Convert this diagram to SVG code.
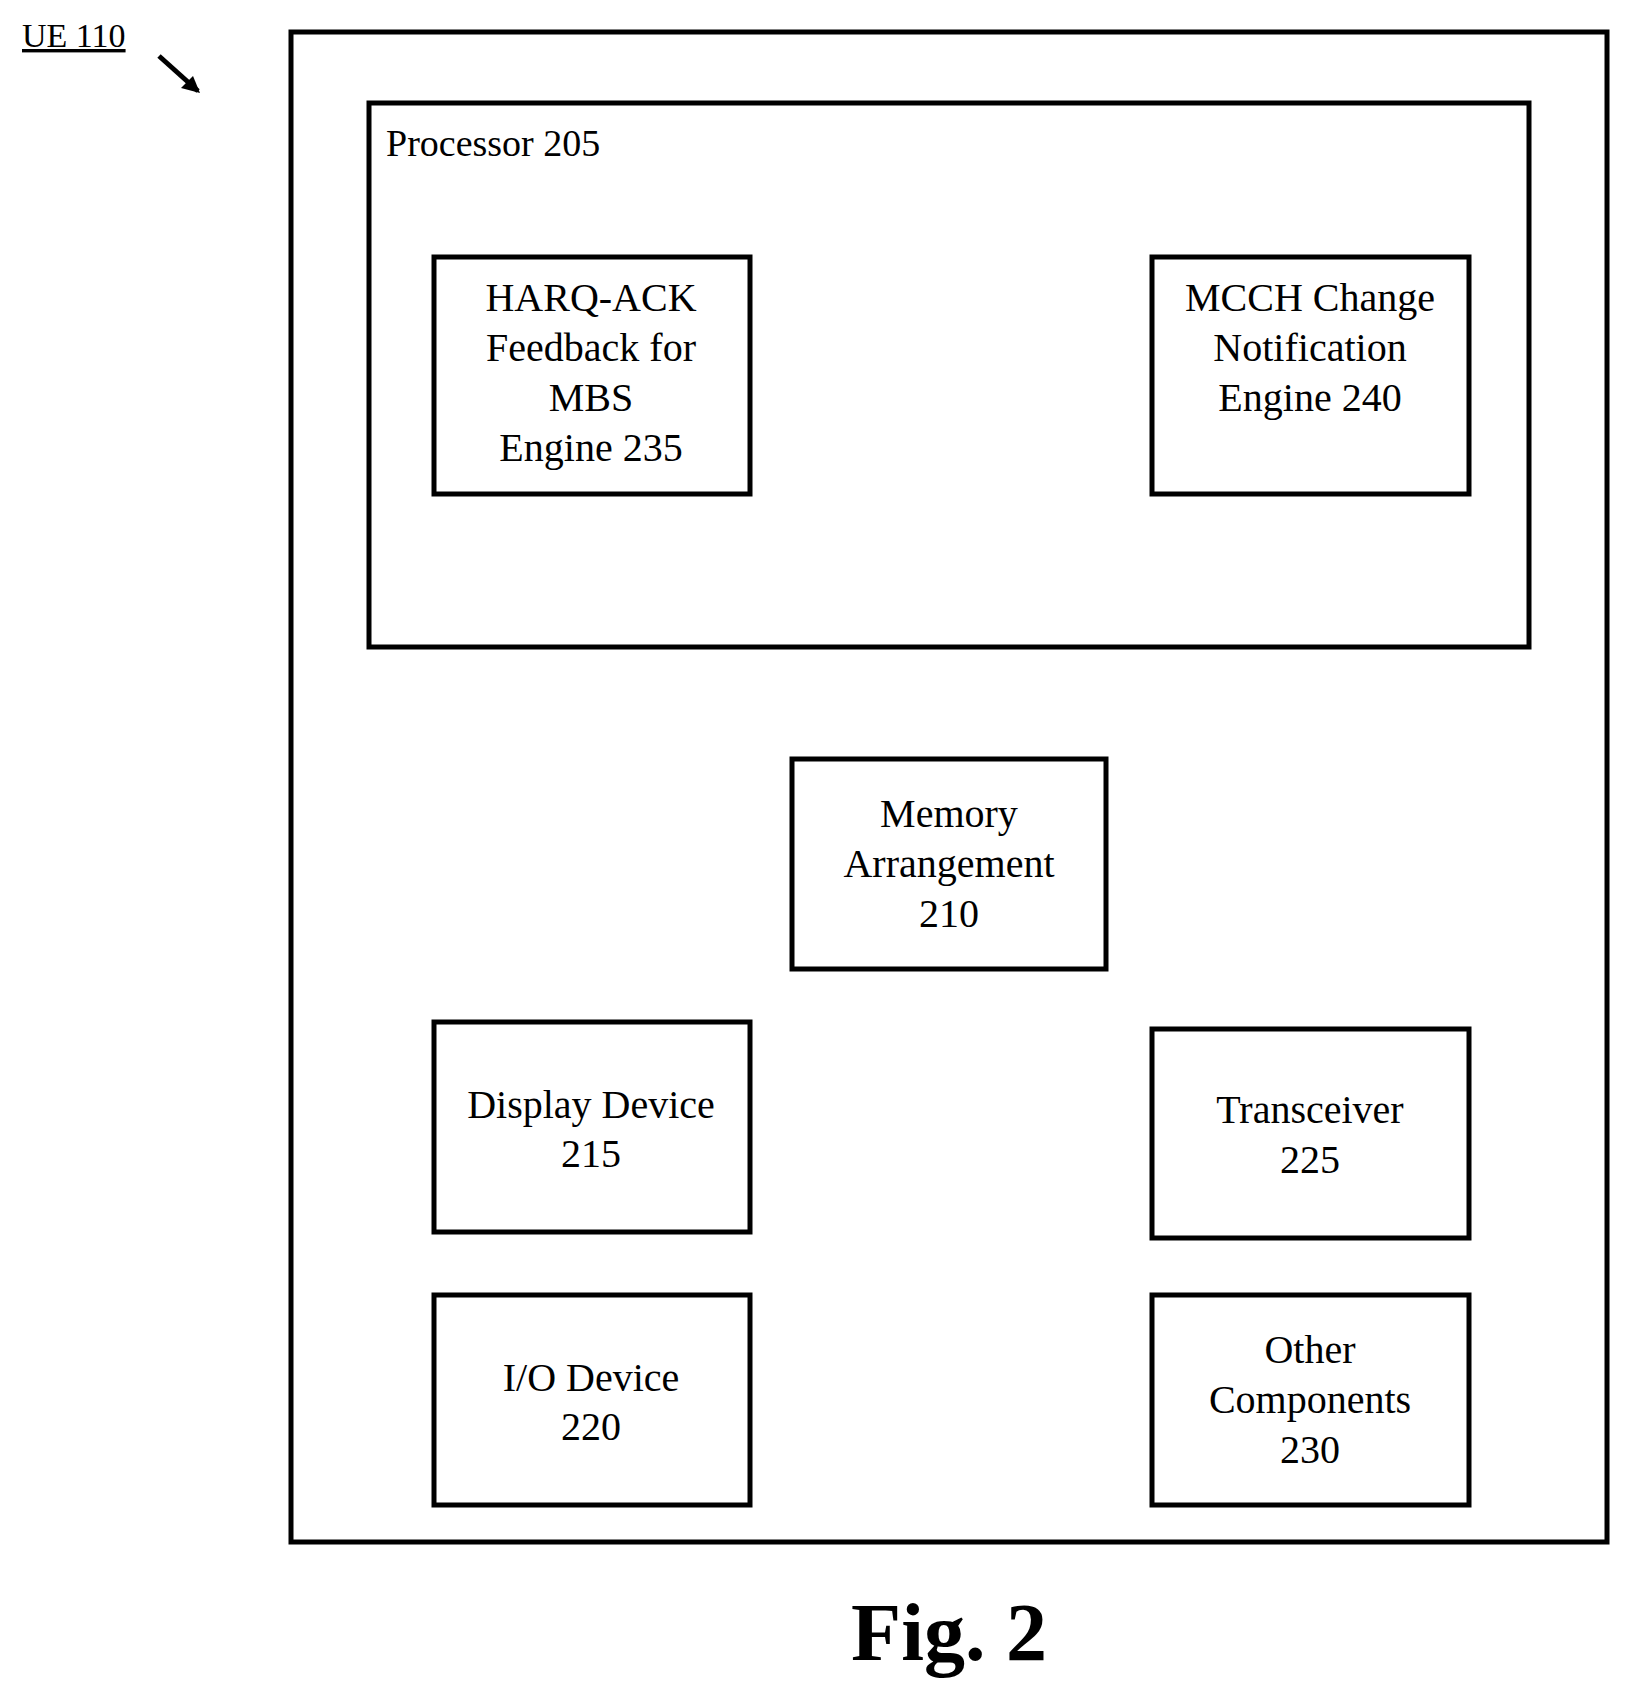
<svg xmlns="http://www.w3.org/2000/svg" width="1628" height="1696" viewBox="0 0 1628 1696">
<style>
rect{fill:none;stroke:#000;stroke-width:5}
text{font-family:"Liberation Serif","Times New Roman",serif;font-size:40px;fill:#000}
.c{text-anchor:middle}
</style>
<defs><marker id="ah" markerWidth="10" markerHeight="10" refX="8" refY="5" orient="auto" markerUnits="userSpaceOnUse"><path d="M0,0 L10,5 L0,10 z" fill="#000"/></marker></defs>
<rect width="1628" height="1696" fill="#fff" stroke="none" style="fill:#fff;stroke:none"/>
<g id="ue"><text x="22" y="47" style="font-size:34px;text-decoration:underline">UE 110</text></g>
<g id="connectors"><line x1="159" y1="56" x2="198" y2="91" stroke="#000" stroke-width="5"/><path d="M200,93 L181,88 L193,76 z" fill="#000"/></g>
<g id="outer"><rect x="291" y="32" width="1316" height="1510"/></g>
<g id="processor"><rect x="369" y="103" width="1160" height="544"/><text x="386" y="156" style="font-size:38px">Processor 205</text></g>
<g id="harq"><rect x="434" y="257" width="316" height="237"/><text class="c" x="591" y="311">HARQ-ACK</text><text class="c" x="591" y="361">Feedback for</text><text class="c" x="591" y="411">MBS</text><text class="c" x="591" y="461">Engine 235</text></g>
<g id="mcch"><rect x="1152" y="257" width="317" height="237"/><text class="c" x="1310" y="311">MCCH Change</text><text class="c" x="1310" y="361">Notification</text><text class="c" x="1310" y="411">Engine 240</text></g>
<g id="memory"><rect x="792" y="759" width="314" height="210"/><text class="c" x="949" y="827">Memory</text><text class="c" x="949" y="877">Arrangement</text><text class="c" x="949" y="927">210</text></g>
<g id="display"><rect x="434" y="1022" width="316" height="210"/><text class="c" x="591" y="1118">Display Device</text><text class="c" x="591" y="1167">215</text></g>
<g id="transceiver"><rect x="1152" y="1029" width="317" height="209"/><text class="c" x="1310" y="1123">Transceiver</text><text class="c" x="1310" y="1173">225</text></g>
<g id="io"><rect x="434" y="1295" width="316" height="210"/><text class="c" x="591" y="1391">I/O Device</text><text class="c" x="591" y="1440">220</text></g>
<g id="other"><rect x="1152" y="1295" width="317" height="210"/><text class="c" x="1310" y="1363">Other</text><text class="c" x="1310" y="1413">Components</text><text class="c" x="1310" y="1463">230</text></g>
<g id="fig"><text class="c" x="949" y="1660" style="font-size:82px;font-weight:bold">Fig. 2</text></g>
</svg>
